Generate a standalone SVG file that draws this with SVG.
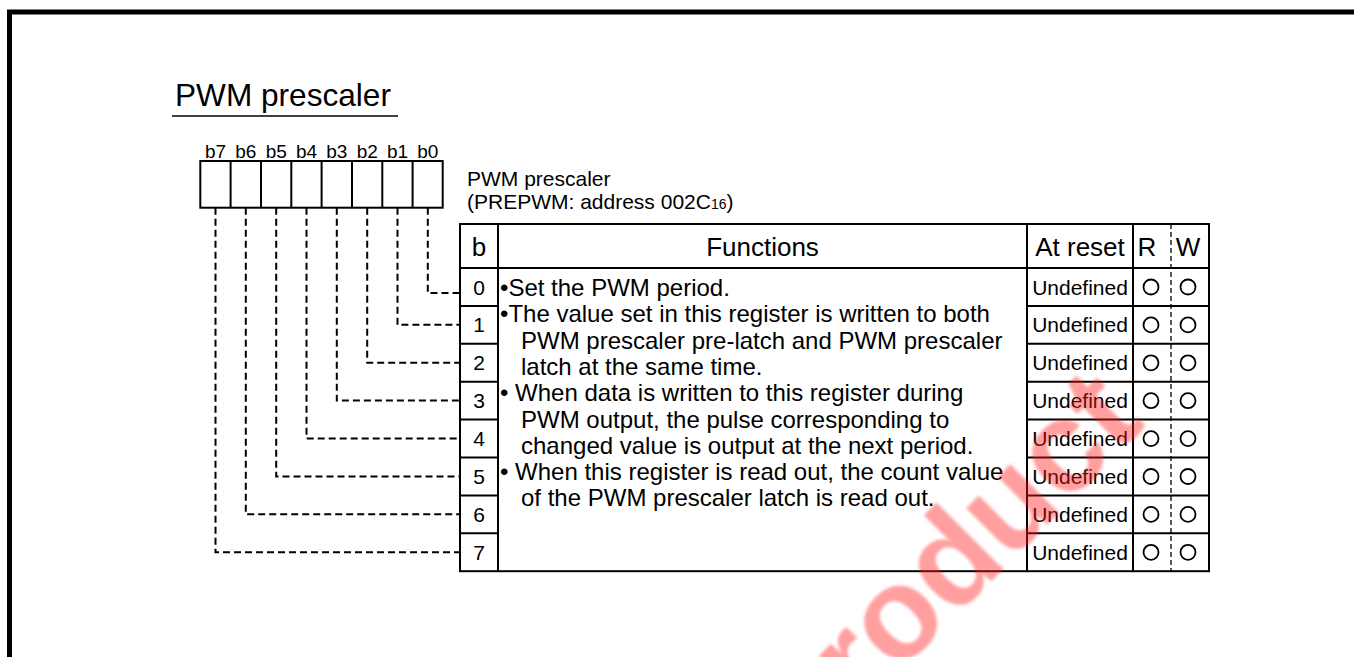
<svg xmlns="http://www.w3.org/2000/svg" width="1354" height="657" viewBox="0 0 1354 657">
<defs>
<style>
text{font-family:"Liberation Sans",Arial,sans-serif;fill:#000}
.t{font-size:31.6px}
.bl{font-size:19px;text-anchor:middle}
.lab{font-size:21px}
.hd{font-size:26px;text-anchor:middle}
.fn{font-size:24px}
.cell{font-size:21px;text-anchor:middle}
.ln{fill:none;stroke:#000;stroke-width:2}
.dash{fill:none;stroke:#000;stroke-width:2;stroke-dasharray:7 4}
.rw{fill:none;stroke:#000;stroke-width:1.3;stroke-dasharray:5 3}
.c{fill:none;stroke:#000;stroke-width:1.8}
.wm{font-family:"Liberation Sans",Arial,sans-serif;font-weight:bold;font-size:130px;fill:#ff1a1a;opacity:0.42}
</style>
<filter id="soft"><feGaussianBlur stdDeviation="1.5"/></filter>
</defs>
<rect width="1354" height="657" fill="#fff"/>
<path d="M9.5 657V12H1354" fill="none" stroke="#000" stroke-width="5"/>

<g id="title">
<text class="t" x="175" y="106">PWM prescaler</text>
<line x1="172" y1="116" x2="398" y2="116" stroke="#000" stroke-width="1.5"/>
</g>

<g id="register">
<g>
<text class="bl" x="215.5" y="158">b7</text>
<text class="bl" x="245.8" y="158">b6</text>
<text class="bl" x="276.2" y="158">b5</text>
<text class="bl" x="306.5" y="158">b4</text>
<text class="bl" x="336.8" y="158">b3</text>
<text class="bl" x="367.2" y="158">b2</text>
<text class="bl" x="397.5" y="158">b1</text>
<text class="bl" x="427.8" y="158">b0</text>
</g>
<rect class="ln" x="200.3" y="161" width="242.4" height="46.7"/>
<path class="ln" d="M230.6 161V207.7M261 161V207.7M291.3 161V207.7M321.6 161V207.7M352 161V207.7M382.3 161V207.7M412.6 161V207.7"/>
</g>

<g id="reg-label">
<text class="lab" x="467" y="186">PWM prescaler</text>
<text class="lab" x="467" y="209">(PREPWM: address 002C<tspan font-size="14px">16</tspan>)</text>
</g>

<g id="connectors">
<path class="dash" d="M427.8 207.7V293H460"/>
<path class="dash" d="M397.5 207.7V324.8H460"/>
<path class="dash" d="M367.2 207.7V362.7H460"/>
<path class="dash" d="M336.8 207.7V400.6H460"/>
<path class="dash" d="M306.5 207.7V438.5H460"/>
<path class="dash" d="M276.2 207.7V476.4H460"/>
<path class="dash" d="M245.8 207.7V514.3H460"/>
<path class="dash" d="M215.5 207.7V552.2H460"/>
</g>

<g id="table">
<rect class="ln" x="460" y="224" width="749" height="347.2"/>
<path class="ln" d="M498 224V571.2M1027 224V571.2M1133 224V571.2M460 268H1209"/>
<path class="ln" d="M460 305.9H498M460 343.8H498M460 381.7H498M460 419.6H498M460 457.5H498M460 495.4H498M460 533.3H498"/>
<path class="ln" d="M1027 305.9H1209M1027 343.8H1209M1027 381.7H1209M1027 419.6H1209M1027 457.5H1209M1027 495.4H1209M1027 533.3H1209"/>
<line class="rw" x1="1171" y1="224" x2="1171" y2="571.2"/>
<text class="hd" x="479" y="256">b</text>
<text class="hd" x="762.5" y="256">Functions</text>
<text class="hd" x="1080" y="256">At reset</text>
<text class="hd" x="1147" y="256">R</text>
<text class="hd" x="1188" y="256">W</text>
</g>

<g id="bits">
<text class="cell" x="479" y="294.5">0</text>
<text class="cell" x="479" y="332.4">1</text>
<text class="cell" x="479" y="370.3">2</text>
<text class="cell" x="479" y="408.2">3</text>
<text class="cell" x="479" y="446.1">4</text>
<text class="cell" x="479" y="484">5</text>
<text class="cell" x="479" y="521.9">6</text>
<text class="cell" x="479" y="559.8">7</text>
</g>

<g id="functions" xml:space="preserve">
<text class="fn" x="500" y="296">•Set the PWM period.</text>
<text class="fn" x="500" y="322.3">•The value set in this register is written to both</text>
<text class="fn" x="521" y="348.6">PWM prescaler pre-latch and PWM prescaler</text>
<text class="fn" x="521" y="374.9">latch at the same time.</text>
<text class="fn" x="500" y="401.2">• When data is written to this register during</text>
<text class="fn" x="521" y="427.5">PWM output, the pulse corresponding to</text>
<text class="fn" x="521" y="453.8">changed value is output at the next period.</text>
<text class="fn" x="500" y="480.1">• When this register is read out, the count value</text>
<text class="fn" x="521" y="506.4">of the PWM prescaler latch is read out.</text>
</g>

<g id="reset">
<text class="cell" x="1080" y="294.5">Undefined</text>
<text class="cell" x="1080" y="332.4">Undefined</text>
<text class="cell" x="1080" y="370.3">Undefined</text>
<text class="cell" x="1080" y="408.2">Undefined</text>
<text class="cell" x="1080" y="446.1">Undefined</text>
<text class="cell" x="1080" y="484">Undefined</text>
<text class="cell" x="1080" y="521.9">Undefined</text>
<text class="cell" x="1080" y="559.8">Undefined</text>
</g>

<g id="rw">
<circle class="c" cx="1151" cy="287" r="7.5"/><circle class="c" cx="1188" cy="287" r="7.5"/>
<circle class="c" cx="1151" cy="324.9" r="7.5"/><circle class="c" cx="1188" cy="324.9" r="7.5"/>
<circle class="c" cx="1151" cy="362.8" r="7.5"/><circle class="c" cx="1188" cy="362.8" r="7.5"/>
<circle class="c" cx="1151" cy="400.7" r="7.5"/><circle class="c" cx="1188" cy="400.7" r="7.5"/>
<circle class="c" cx="1151" cy="438.6" r="7.5"/><circle class="c" cx="1188" cy="438.6" r="7.5"/>
<circle class="c" cx="1151" cy="476.5" r="7.5"/><circle class="c" cx="1188" cy="476.5" r="7.5"/>
<circle class="c" cx="1151" cy="514.4" r="7.5"/><circle class="c" cx="1188" cy="514.4" r="7.5"/>
<circle class="c" cx="1151" cy="552.3" r="7.5"/><circle class="c" cx="1188" cy="552.3" r="7.5"/>
</g>

<text class="wm" x="800" y="772" transform="rotate(-45 800 772)" filter="url(#soft)">Product</text>
</svg>
